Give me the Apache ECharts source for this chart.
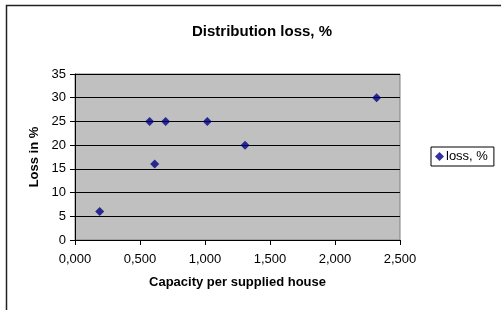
<!DOCTYPE html>
<html>
<head>
    <meta charset="utf-8">
    <title>Distribution loss</title>
    <script src="https://cdn.jsdelivr.net/npm/echarts@6/dist/echarts.min.js"></script>
    <style type="text/css">
        * { margin: 0; padding: 0; }
        body { background: #fff; }
    </style>
</head>
<body>
<div id="main" style="width: 501px; height: 310px;"></div>
<script type="text/javascript">
    // values
    var capacity = [0.19, 0.574, 0.613, 0.697, 1.018, 1.308, 2.32];
    var loss = [6, 25, 16, 25, 25, 20, 30];
    var xTicks = [0, 0.5, 1, 1.5, 2, 2.5];
    var yTicks = [0, 5, 10, 15, 20, 25, 30, 35];

    var points = capacity.map(function (c, i) { return [c, loss[i]]; });

    var myChart = echarts.init(document.getElementById('main'));
    var font = 'Liberation Sans, Arial, sans-serif';

    var option = {
        animation: false,
        textStyle: { fontFamily: font },
        title: {
            text: 'Distribution loss, %',
            left: 257,
            textAlign: 'center',
            top: 19,
            textStyle: { fontSize: 15, fontWeight: 'bold', color: '#000', fontFamily: font }
        },
        legend: {
            left: 431,
            top: 147,
            orient: 'vertical',
            icon: 'diamond',
            itemWidth: 9,
            itemHeight: 9,
            itemGap: 0,
            padding: [3, 6, 3, 4],
            borderColor: '#000',
            borderWidth: 1,
            textStyle: { fontSize: 13, color: '#000', fontFamily: font, padding: [0, 0, 0, -3] },
            data: ['loss, %']
        },
        grid: {
            left: 75,
            right: 101,
            top: 74,
            bottom: 70,
            show: true,
            backgroundColor: '#c0c0c0',
            borderColor: '#808080',
            borderWidth: 1
        },
        xAxis: {
            type: 'value',
            min: xTicks[0],
            max: xTicks[xTicks.length - 1],
            interval: 0.5,
            name: 'Capacity per supplied house',
            nameLocation: 'middle',
            nameGap: 36,
            nameTextStyle: { fontSize: 13, fontWeight: 'bold', color: '#000', fontFamily: font },
            splitLine: { show: false },
            axisLine: { lineStyle: { color: '#000', width: 1 } },
            axisTick: { show: true, length: 5, lineStyle: { color: '#000' } },
            axisLabel: {
                color: '#000',
                fontSize: 13,
                margin: 13,
                formatter: function (v) { return v.toFixed(3).replace('.', ','); }
            }
        },
        yAxis: {
            type: 'value',
            min: yTicks[0],
            max: yTicks[yTicks.length - 1],
            interval: 5,
            name: 'Loss in %',
            nameLocation: 'middle',
            nameGap: 27,
            nameTextStyle: { fontSize: 13, fontWeight: 'bold', color: '#000', fontFamily: font },
            splitLine: { show: true, lineStyle: { color: '#000', width: 1 } },
            axisLine: { show: true, lineStyle: { color: '#000', width: 1 } },
            axisTick: { show: true, length: 5, lineStyle: { color: '#000' } },
            axisLabel: { color: '#000', fontSize: 13, margin: 9 }
        },
        graphic: [
            // outer chart frame, only top and left edges are inside the picture
            {
                type: 'polyline',
                shape: { points: [[6.5, 320], [6.5, 5.5], [520, 5.5]] },
                style: { fill: 'none', stroke: '#222', lineWidth: 1.5 },
                silent: true
            }
        ],
        series: [
            {
                name: 'loss, %',
                type: 'scatter',
                symbol: 'diamond',
                symbolSize: 9,
                itemStyle: { color: '#000080' },
                data: points
            }
        ]
    };
    myChart.setOption(option);
</script>
</body>
</html>
